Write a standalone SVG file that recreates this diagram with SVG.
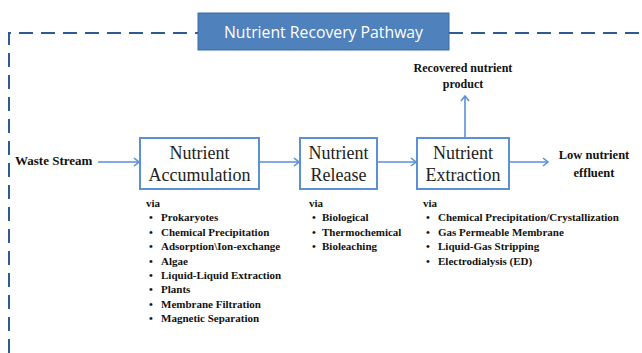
<svg xmlns="http://www.w3.org/2000/svg" width="642" height="353" viewBox="0 0 642 353">
<defs>
<marker id="arr" markerUnits="userSpaceOnUse" markerWidth="10" markerHeight="12" refX="6" refY="5" orient="auto">
<path d="M1,1 L6,5 L1,9" fill="none" stroke="#5b8fd6" stroke-width="1.6"/>
</marker>
</defs>
<style>
.border{fill:none;stroke:#2f5b93;stroke-width:2;stroke-dasharray:14 8}
.box{fill:#fff;stroke:#5b8fd6;stroke-width:2}
.serif{font-family:'Liberation Serif','Times New Roman','DejaVu Serif',serif}
.btxt{font-size:18px;fill:#222;text-anchor:middle}
.lbl{font-weight:bold;fill:#111}
.lst{font-weight:bold;font-size:11px;fill:#111}
.conn{stroke:#5b8fd6;stroke-width:1.6;fill:none;marker-end:url(#arr)}
</style>
<rect width="642" height="353" fill="#fff"/>
<g id="frame">
<path class="border" d="M9,353 L9,33 L198,33"/>
<path class="border" d="M449,33 L642,33"/>
</g>
<g id="title">
<rect x="198" y="13" width="251" height="37" fill="#4f81bd" stroke="#3d6ba6" stroke-width="1"/>
<text x="323.5" y="38" font-family="'Open Sans','Liberation Sans',sans-serif" font-size="16" fill="#fff" text-anchor="middle" textLength="199" lengthAdjust="spacingAndGlyphs">Nutrient Recovery Pathway</text>
</g>
<g id="connectors">
<line class="conn" x1="98" y1="162" x2="139" y2="162"/>
<line class="conn" x1="259" y1="162" x2="299" y2="162"/>
<line class="conn" x1="377" y1="162" x2="416" y2="162"/>
<line class="conn" x1="509" y1="162" x2="548" y2="162"/>
<line class="conn" x1="465" y1="138" x2="465" y2="96"/>
</g>
<g id="waste" class="serif">
<text class="lbl" x="15" y="165" font-size="13">Waste Stream</text>
</g>
<g id="accumulation" class="serif">
<rect class="box" x="140" y="138" width="119" height="51"/>
<text class="btxt" x="199.5" y="159">Nutrient</text>
<text class="btxt" x="199.5" y="181">Accumulation</text>
<g class="lst">
<text x="146" y="207">via</text>
<text x="149" y="221">•</text><text x="161" y="221">Prokaryotes</text>
<text x="149" y="235.5">•</text><text x="161" y="235.5">Chemical Precipitation</text>
<text x="149" y="250">•</text><text x="161" y="250">Adsorption\Ion-exchange</text>
<text x="149" y="264.5">•</text><text x="161" y="264.5">Algae</text>
<text x="149" y="279">•</text><text x="161" y="279">Liquid-Liquid Extraction</text>
<text x="149" y="293">•</text><text x="161" y="293">Plants</text>
<text x="149" y="307.5">•</text><text x="161" y="307.5">Membrane Filtration</text>
<text x="149" y="322">•</text><text x="161" y="322">Magnetic Separation</text>
</g>
</g>
<g id="release" class="serif">
<rect class="box" x="300" y="138" width="77" height="51"/>
<text class="btxt" x="338.5" y="159">Nutrient</text>
<text class="btxt" x="338.5" y="181">Release</text>
<g class="lst">
<text x="309" y="207">via</text>
<text x="312" y="221">•</text><text x="322" y="221">Biological</text>
<text x="312" y="235.5">•</text><text x="322" y="235.5">Thermochemical</text>
<text x="312" y="250">•</text><text x="322" y="250">Bioleaching</text>
</g>
</g>
<g id="extraction" class="serif">
<rect class="box" x="417" y="138" width="92" height="51"/>
<text class="btxt" x="463" y="159">Nutrient</text>
<text class="btxt" x="463" y="181">Extraction</text>
<g class="lst">
<text x="423" y="207">via</text>
<text x="426" y="221">•</text><text x="438" y="221">Chemical Precipitation/Crystallization</text>
<text x="426" y="235.5">•</text><text x="438" y="235.5">Gas Permeable Membrane</text>
<text x="426" y="250">•</text><text x="438" y="250">Liquid-Gas Stripping</text>
<text x="426" y="264.5">•</text><text x="438" y="264.5">Electrodialysis (ED)</text>
</g>
</g>
<g id="product" class="serif">
<text class="lbl" x="463" y="72" font-size="12" text-anchor="middle">Recovered nutrient</text>
<text class="lbl" x="463" y="88" font-size="12" text-anchor="middle">product</text>
</g>
<g id="effluent" class="serif">
<text class="lbl" x="594" y="159" font-size="12.5" text-anchor="middle">Low nutrient</text>
<text class="lbl" x="594" y="177" font-size="12.5" text-anchor="middle">effluent</text>
</g>
</svg>
